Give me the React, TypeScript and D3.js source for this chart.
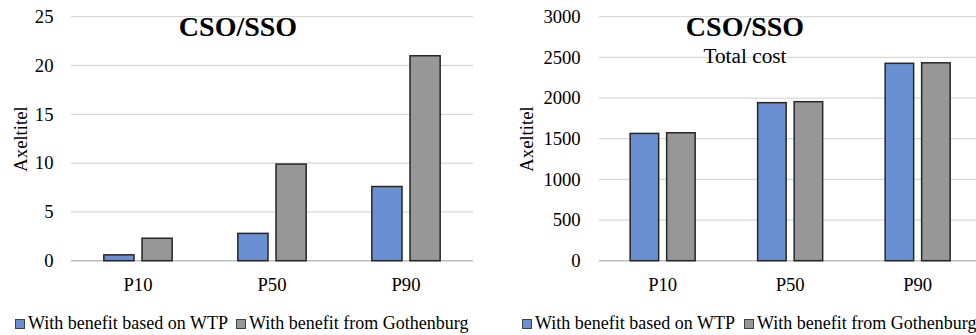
import React from "react";
import * as d3 from "d3";

const categories = ["P10", "P50", "P90"];
const seriesNames = ["With benefit based on WTP", "With benefit from Gothenburg"];
const leftWTP = [0.6, 2.8, 7.6];
const leftGbg = [2.3, 9.9, 21.0];
const rightWTP = [1565, 1943, 2427];
const rightGbg = [1573, 1955, 2433];
const leftTicks = [0, 5, 10, 15, 20, 25];
const rightTicks = [0, 500, 1000, 1500, 2000, 2500, 3000];
const colors = ["#6a8fd2", "#979797"];
const FONT = '"Liberation Serif", "Times New Roman", serif';

const txt = (size: number, bold = false): React.CSSProperties => ({
  fontFamily: FONT,
  fontSize: size,
  fontWeight: bold ? "bold" : "normal",
  fill: "#000",
});

type PanelProps = {
  x0: number;
  x1: number;
  yMax: number;
  ticks: number[];
  a: number[];
  b: number[];
  tickRight: number;
  axisTitleX: number;
  titleX: number;
  subtitle?: string;
  legendX: number[];
};

function Panel(p: PanelProps) {
  const yTop = 16.7;
  const yBot = 260.7;
  const y = d3.scaleLinear().domain([0, p.yMax]).range([yBot, yTop]);
  const pad = 0.49;
  const x = d3.scaleBand().domain(categories).range([p.x0, p.x1]).paddingInner(pad).paddingOuter(pad / 2);
  const bw = x.bandwidth();
  const sub = d3.scaleBand<number>().domain([0, 1]).range([0, bw]).paddingInner(8 / ((bw - 8) / 2 + 8)).paddingOuter(0);
  const series = [p.a, p.b];
  const gridEnd = Math.min(p.x1, 976);
  return (
    <g>
      {p.ticks.map((t) => (
        <g key={t}>
          <line
            x1={p.x0}
            x2={gridEnd}
            y1={y(t)}
            y2={y(t)}
            stroke={t === 0 ? "#bfbfbf" : "#d9d9d9"}
            strokeWidth={t === 0 ? 1.6 : 1.3}
          />
          <text x={p.tickRight} y={y(t) + 6.3} textAnchor="end" style={txt(18.67)}>
            {t}
          </text>
        </g>
      ))}
      {categories.map((c, i) => (
        <g key={c}>
          {series.map((s, k) => (
            <rect
              key={k}
              x={(x(c) as number) + (sub(k) as number)}
              y={y(s[i])}
              width={sub.bandwidth()}
              height={yBot - y(s[i])}
              fill={colors[k]}
              stroke="#262626"
              strokeWidth={1.5}
            />
          ))}
          <text x={(x(c) as number) + bw / 2} y={290.5} textAnchor="middle" style={txt(18.67)}>
            {c}
          </text>
        </g>
      ))}
      <text transform={`translate(${p.axisTitleX},139) rotate(-90)`} textAnchor="middle" style={txt(18.67)}>
        Axeltitel
      </text>
      <text x={p.titleX} y={36.3} textAnchor="middle" style={txt(28, true)}>
        CSO/SSO
      </text>
      {p.subtitle && (
        <text x={p.titleX} y={62.5} textAnchor="middle" style={txt(21.3)}>
          {p.subtitle}
        </text>
      )}
      {seriesNames.map((n, k) => (
        <g key={n}>
          <rect x={p.legendX[k]} y={319.5} width={9} height={9} fill={colors[k]} stroke="#404040" strokeWidth={1} />
          <text x={p.legendX[k] + 12.5} y={329} style={txt(18)}>
            {n}
          </text>
        </g>
      ))}
    </g>
  );
}

export default function App() {
  return (
    <svg width={976} height={335} style={{ position: "absolute", left: 0, top: 0, background: "#fff" }}>
      <rect x={0} y={0} width={976} height={335} fill="#fff" />
      <Panel
        x0={71}
        x1={473}
        yMax={25}
        ticks={leftTicks}
        a={leftWTP}
        b={leftGbg}
        tickRight={53.5}
        axisTitleX={26.5}
        titleX={238}
        legendX={[15.5, 236.5]}
      />
      <Panel
        x0={598.9}
        x1={981.4}
        yMax={3000}
        ticks={rightTicks}
        a={rightWTP}
        b={rightGbg}
        tickRight={580.7}
        axisTitleX={533.3}
        titleX={745}
        subtitle="Total cost"
        legendX={[522.5, 744.5]}
      />
    </svg>
  );
}
